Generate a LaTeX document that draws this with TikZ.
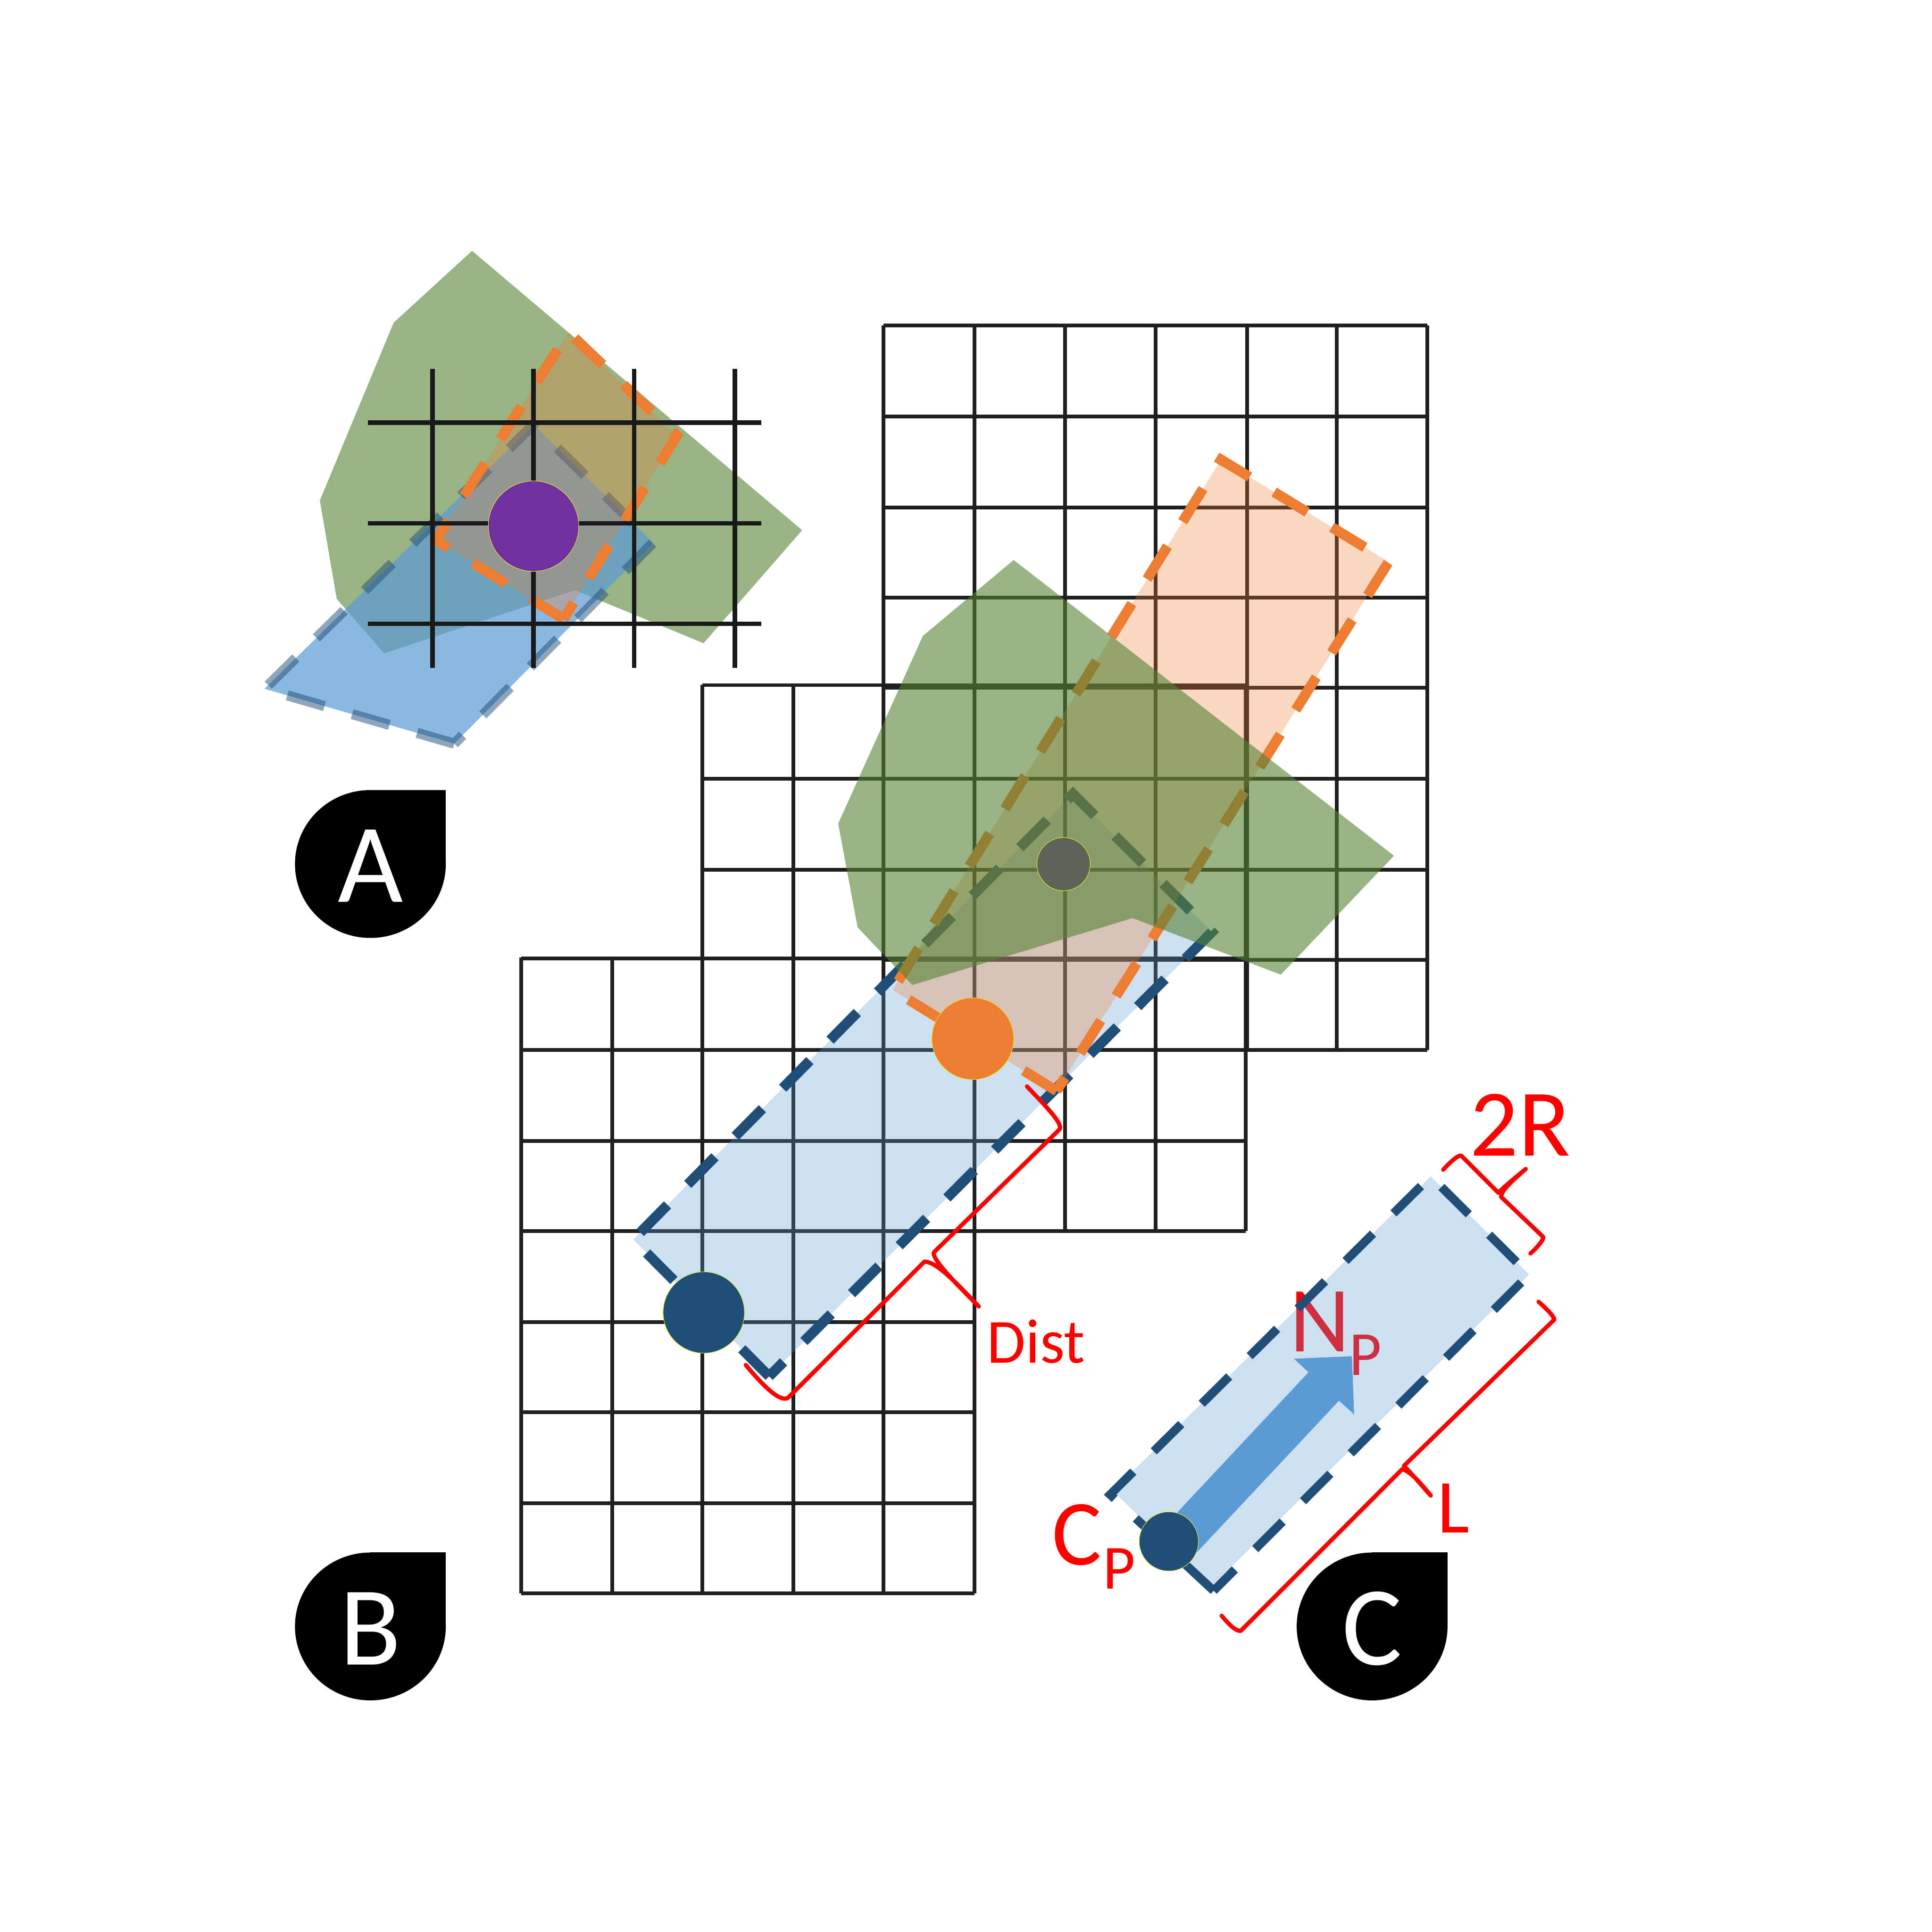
\documentclass[tikz,border=0pt]{standalone}
\usepackage{fontspec}
\setmainfont{Carlito}
\definecolor{cgreen}{HTML}{548235}
\definecolor{cblue}{HTML}{5B9BD5}
\definecolor{cnavy}{HTML}{1F4E79}
\definecolor{corange}{HTML}{ED7D31}
\definecolor{cpurple}{HTML}{7030A0}
\definecolor{cgrey}{HTML}{5E635A}
\definecolor{cring}{HTML}{E8E820}
\newcommand{\dropmark}[4]{%
  \fill[black] (#2,#3) ellipse [x radius=61.2,y radius=60];
  \fill[black] (#2,#3) +(0,-60) rectangle +(61.2,0);
  \path (#2,#3) +(0,31) node[droptext] (#1) {#4};}
\newcommand{\gridlines}[7]{%
  \foreach \gx in {#5} \draw[#7] (\gx,#3) -- (\gx,#4);
  \foreach \gy in {#6} \draw[#7] (#1,\gy) -- (#2,\gy);}
\tikzset{
  gridthin/.style={line width=.03cm,black!88},
  gridbold/.style={line width=.037cm,black!90},
  dashline/.style={line width=.082cm,dash pattern=on .314cm off .234cm},
  bluedash/.style={dashline,cnavy},
  bluedashthin/.style={dashline,line width=.07cm,cnavy},
  bluedashsoft/.style={dashline,cnavy,draw opacity=.5},
  orangedash/.style={dashline,corange},
  greenfill/.style={fill=cgreen,fill opacity=.6},
  bluefillstrong/.style={fill=cblue,fill opacity=.7},
  bluefill/.style={fill=cblue,fill opacity=.3},
  orangefill/.style={fill=corange,fill opacity=.3},
  dotmark/.style={draw=cring,line width=.004cm},
  redbracket/.style={draw=red,line width=.034cm,line join=round,line cap=round},
  droptext/.style={anchor=base,inner sep=0pt,text=white,font=\fontsize{26pt}{26pt}\selectfont},
  redtext/.style={anchor=base west,inner sep=0pt,text=red},
  bigfont/.style={font=\fontsize{21.5pt}{22pt}\selectfont},
  subfont/.style={font=\fontsize{14.5pt}{15pt}\selectfont},
}
\begin{document}
\begin{tikzpicture}[x=.01cm,y=-.01cm]
\useasboundingbox (0,0) rectangle (1568,1568);
\fill[white] (0,0) rectangle (1568,1568);

% ---------- Panel A
\fill[greenfill] (383.1,203.6) -- (319.5,261.9) -- (259.6,406.2) -- (273.3,486) -- (311.8,530.3) -- (466.5,478.9) -- (571,522) -- (651,430.3) -- cycle;
\fill[bluefillstrong] (368.7,603.5) -- (214.7,559) -- (433,344.6) -- (530,440.5) -- cycle;
\draw[bluedashsoft] (368.7,603.5) -- (214.7,559) -- (433,344.6) -- (530,440.5) -- cycle;
\fill[orangefill] (457.4,502.4) -- (353.7,438.4) -- (461.5,269.6) -- (549.5,353.6) -- cycle;
\draw[orangedash] (457.4,502.4) -- (353.7,438.4) -- (461.5,269.6) -- (549.5,353.6) -- cycle;
\gridlines{298.7}{618}{299.4}{542}{351,433,514.7,596.4}{343.1,424.7,506.2}{gridbold}
\draw[dotmark,fill=cpurple] (433,427) circle [radius=36.7];
\dropmark{labA}{300.6}{701.2}{A}

% ---------- Panel B : grids
\gridlines{717}{1158.5}{264}{852}{717,791,864.5,938,1012,1085,1158.5}{264,338,412,485,558,632,706,779,852}{gridthin}
\gridlines{570}{1011}{556}{999}{570,644,717,791,864.5,938,1011}{556,632,706,778,852,926,999}{gridthin}
\gridlines{423}{791}{777}{1293}{423,497,570,644,717,791}{778,852,926,999,1073,1146,1220,1293}{gridthin}
\fill[bluefill] (624.2,1117) -- (514,1006) -- (870.8,644.3) -- (983.5,756.5) -- cycle;
\draw[bluedash] (624.2,1117) -- (514,1006) -- (870.8,644.3) -- (983.5,756.5) -- cycle;
\fill[orangefill] (857.5,885.4) -- (724.6,803.4) -- (991,373) -- (1127,456) -- cycle;
\draw[orangedash] (857.5,885.4) -- (724.6,803.4) -- (991,373) -- (1127,456) -- cycle;
\fill[greenfill] (822.7,454.5) -- (749,516.1) -- (680.3,668.4) -- (696,752.5) -- (740.4,799.4) -- (919.2,745.1) -- (1039.5,791) -- (1131.3,694.5) -- cycle;
\draw[dotmark,fill=cgrey] (863.2,701.3) circle [radius=21.6];
\draw[dotmark,fill=corange] (789.5,843) circle [radius=33.2];
\draw[dotmark,fill=cnavy] (571.2,1065.2) circle [radius=33];
\draw[redbracket] (833.5,881.7) .. controls (848,897) and (863,912) .. (860,916.5) -- (758.2,1016.1)
  .. controls (755,1020) and (772,1038) .. (794.4,1060.3)
  .. controls (775,1040) and (760,1024) .. (750.3,1023.9) -- (639.6,1134.4)
  .. controls (634,1138) and (622,1128) .. (605.3,1107.8);
\node[redtext,font=\fontsize{14.5pt}{15pt}\selectfont] (dist) at (800.5,1106) {Dist};
\dropmark{labB}{300.6}{1320}{B}

% ---------- Panel C
\node[redtext,bigfont] (nmain) at (1046,1097) {N};
\node[redtext,subfont] (nsub) at (1094.5,1116) {P};
\fill[bluefill] (983.1,1287.5) -- (903.3,1210) -- (1161.2,954.7) -- (1241,1034.4) -- cycle;
\draw[bluedashthin] (985,1291) -- (901,1213) -- (1161.2,954.7) -- (1241,1034.4) -- cycle;
\fill[cblue] (954.8,1228.2) -- (1062,1113.7) -- (1050.1,1102.7) -- (1097.2,1100.7) -- (1099,1147.9) -- (1086.7,1136.8) -- (971.2,1260) -- (948.6,1251) -- cycle;
\draw[dotmark,fill=cnavy] (948.6,1251) circle [radius=24];
\node[redtext,font=\fontsize{22pt}{22pt}\selectfont] (twoR) at (1192.5,938) {2R};
\draw[redbracket] (1171.3,949.3) .. controls (1178,942) and (1184,937) .. (1186,938) -- (1216,968)
  .. controls (1222,962) and (1232,954) .. (1238.3,948.7)
  .. controls (1230,956) and (1218,966) .. (1218.3,971.4) -- (1252.5,1003.9)
  .. controls (1253,1006) and (1248,1012) .. (1242.1,1017.3);
\draw[redbracket] (1248.7,1056.5) .. controls (1255,1062) and (1261,1068) .. (1261.5,1070.9) -- (1139.4,1189.7)
  .. controls (1145,1195) and (1155,1207) .. (1161.2,1213.8)
  .. controls (1155,1206) and (1145,1194) .. (1138,1192.4) -- (1007,1323.6)
  .. controls (1003,1324) and (997,1318) .. (991.5,1311.3);
\node[redtext,font=\fontsize{17.6pt}{18pt}\selectfont] (lenL) at (1166,1244) {L};
\node[redtext,bigfont] (cmain) at (853,1270) {C};
\node[redtext,subfont] (csub) at (894.5,1289.5) {P};
\dropmark{labC}{1113.6}{1320}{C}
\end{tikzpicture}
\end{document}
